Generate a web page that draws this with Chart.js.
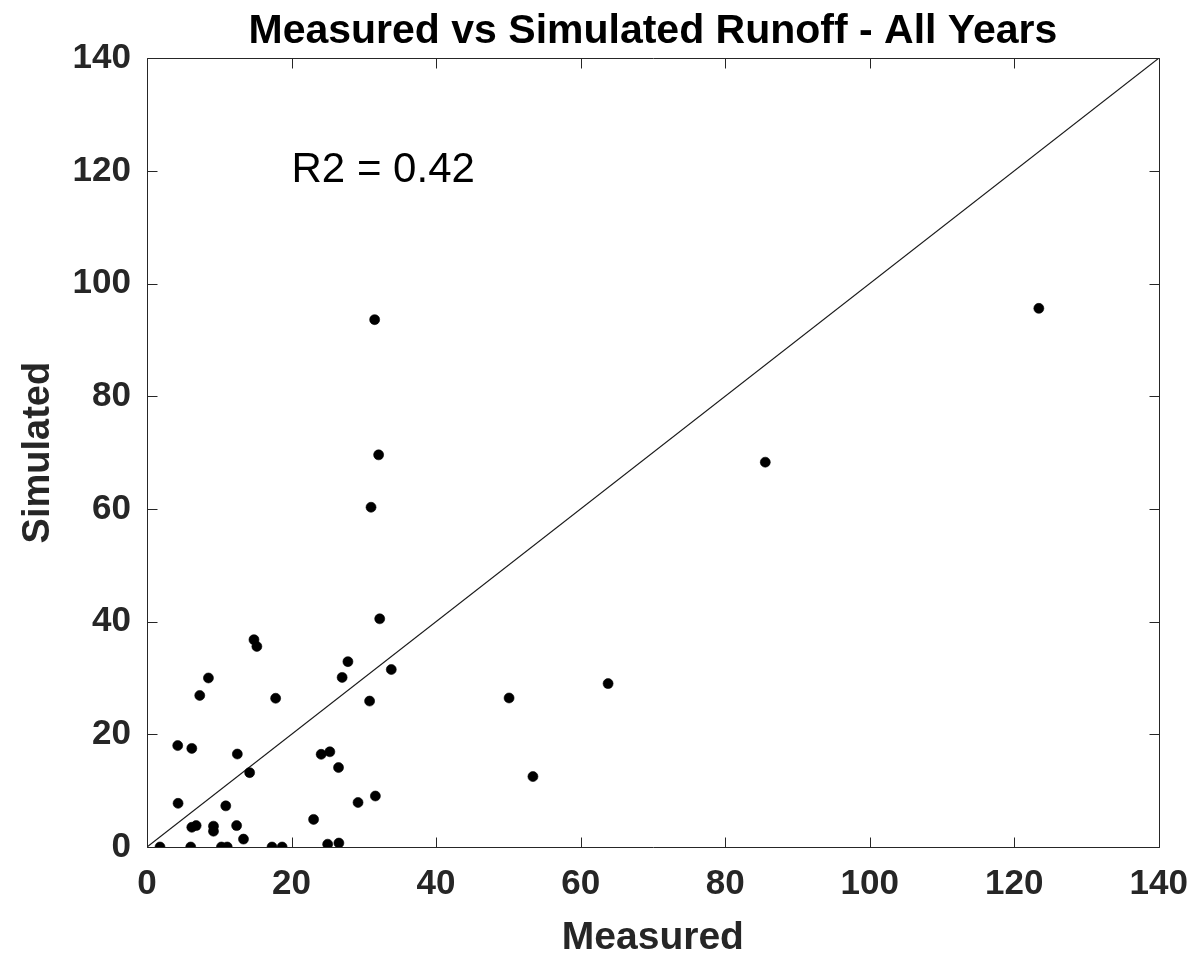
<!DOCTYPE html>
<html>
<head>
<meta charset="utf-8">
<script src="https://cdn.jsdelivr.net/npm/chart.js@4/dist/chart.umd.min.js"></script>
<style>
  html, body { margin: 0; padding: 0; background: #fff; }
  #c { display: block; }
</style>
</head>
<body>
<canvas id="c" width="1204" height="960"></canvas>
<script>
// ---- data ----
const measured = [1.8, 4.25, 4.3, 6.05, 6.2, 6.2, 6.8, 7.3, 8.5, 9.2, 9.2, 10.3, 10.9, 11.1,
  12.4, 12.5, 13.35, 14.2, 14.8, 15.2, 17.3, 17.8, 18.7, 23.05, 24.1, 25.0, 25.3, 26.5,
  26.55, 27.0, 27.8, 29.2, 30.8, 31.0, 31.5, 31.6, 32.05, 32.2, 33.8, 50.1, 53.4, 63.8,
  85.55, 123.4];
const simulated = [0, 18.0, 7.75, 0, 17.5, 3.5, 3.8, 26.9, 30.0, 3.7, 2.8, 0, 7.3, 0,
  3.8, 16.5, 1.4, 13.2, 36.8, 35.6, 0, 26.4, 0, 4.9, 16.45, 0.5, 16.9, 14.1,
  0.7, 30.1, 32.9, 7.9, 25.9, 60.3, 93.6, 9.05, 69.6, 40.5, 31.5, 26.45, 12.5, 29.0,
  68.3, 95.6];
const oneToOneX = [0, 140];
const oneToOneY = [0, 140];
const xTicks = [0, 20, 40, 60, 80, 100, 120, 140];
const yTicks = [0, 20, 40, 60, 80, 100, 120, 140];
const titleText = 'Measured vs Simulated Runoff - All Years';
const xLabel = 'Measured';
const yLabel = 'Simulated';
const r2Label = 'R2 = 0.42';
const r2Pos = [20, 120];

const FONT = '"Liberation Sans", Arial, Helvetica, sans-serif';
const AXC = '#262626';

const points = measured.map((m, i) => ({ x: m, y: simulated[i] }));
const diag = oneToOneX.map((v, i) => ({ x: v, y: oneToOneY[i] }));

const boxTicks = {
  id: 'boxTicks',
  afterDatasetsDraw(chart) {
    const { ctx, chartArea: a, scales } = chart;
    const L = Math.round(a.left) + 0.5, R = Math.round(a.right) + 0.5;
    const T = Math.round(a.top) + 0.5, B = Math.round(a.bottom) + 0.5;
    ctx.save();
    ctx.strokeStyle = AXC;
    ctx.lineWidth = 1;
    ctx.beginPath();
    ctx.rect(L, T, R - L, B - T);
    const tl = 10;
    xTicks.forEach(v => {
      const px = Math.round(scales.x.getPixelForValue(v)) + 0.5;
      ctx.moveTo(px, B); ctx.lineTo(px, B - tl);
      ctx.moveTo(px, T); ctx.lineTo(px, T + tl);
    });
    yTicks.forEach(v => {
      const py = Math.round(scales.y.getPixelForValue(v)) + 0.5;
      ctx.moveTo(L, py); ctx.lineTo(L + tl, py);
      ctx.moveTo(R, py); ctx.lineTo(R - tl, py);
    });
    ctx.stroke();
    // annotation
    ctx.fillStyle = '#000';
    ctx.font = '42px ' + FONT;
    ctx.textAlign = 'left';
    ctx.textBaseline = 'middle';
    ctx.fillText(r2Label, scales.x.getPixelForValue(r2Pos[0]), scales.y.getPixelForValue(r2Pos[1]));
    ctx.restore();
  }
};

new Chart(document.getElementById('c'), {
  type: 'scatter',
  data: {
    datasets: [
      {
        label: 'Runoff',
        data: points,
        pointRadius: 5,
        pointBackgroundColor: '#000',
        pointBorderColor: '#000',
        pointBorderWidth: 0.6,
        order: 1
      },
      {
        label: '1:1',
        data: diag,
        showLine: true,
        pointRadius: 0,
        borderColor: '#1a1a1a',
        borderWidth: 1.2,
        order: 2
      }
    ]
  },
  options: {
    responsive: false,
    animation: false,
    layout: { padding: { left: 0, right: 45, top: 0, bottom: 0 } },
    plugins: {
      legend: { display: false },
      tooltip: { enabled: false },
      title: {
        display: true,
        text: titleText,
        fullSize: false,
        color: '#000',
        font: { family: FONT, size: 41, weight: 'bold', lineHeight: 1.2 },
        padding: { top: 7, bottom: 2 }
      }
    },
    scales: {
      x: {
        type: 'linear',
        min: 0, max: 140,
        afterFit(s) { s.height = 113; },
        afterBuildTicks(s) { s.ticks = xTicks.map(v => ({ value: v })); },
        grid: { display: false, drawTicks: false },
        border: { display: false },
        ticks: {
          color: AXC,
          padding: 16,
          maxRotation: 0,
          font: { family: FONT, size: 35, weight: 'bold' }
        },
        title: {
          display: true,
          text: xLabel,
          color: AXC,
          font: { family: FONT, size: 39, weight: 'bold', lineHeight: 1.2 },
          padding: { top: 0, bottom: -2 }
        }
      },
      y: {
        type: 'linear',
        min: 0, max: 140,
        afterFit(s) { s.width = 147; },
        afterBuildTicks(s) { s.ticks = yTicks.map(v => ({ value: v })); },
        grid: { display: false, drawTicks: false },
        border: { display: false },
        ticks: {
          color: AXC,
          padding: 16,
          font: { family: FONT, size: 35, weight: 'bold' }
        },
        title: {
          display: true,
          text: yLabel,
          color: AXC,
          font: { family: FONT, size: 38, weight: 'bold', lineHeight: 1.2 },
          padding: { top: 16, bottom: 0 }
        }
      }
    }
  },
  plugins: [boxTicks]
});
</script>
</body>
</html>
